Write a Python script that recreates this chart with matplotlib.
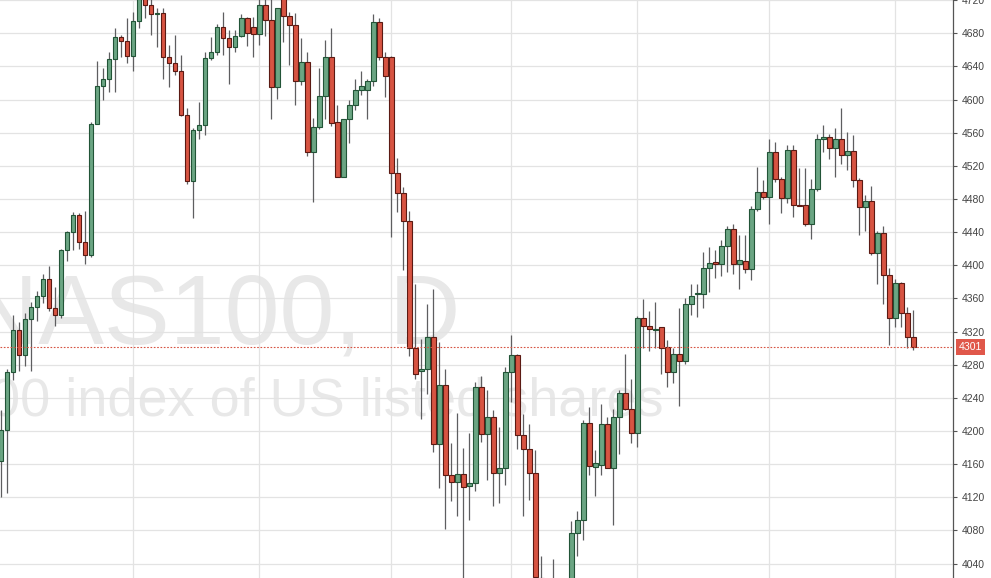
import numpy as np
import matplotlib
matplotlib.use("Agg")
import matplotlib.pyplot as plt
from matplotlib.transforms import blended_transform_factory

# daily candles, NAS100
opens = [4164, 4201, 4271, 4322, 4292, 4335, 4350, 4363, 4383, 4349,
         4340, 4418, 4440, 4461, 4428, 4412, 4571, 4617, 4625, 4649,
         4676, 4671, 4653, 4695, 4728, 4714, 4703, 4705, 4652, 4644,
         4634, 4582, 4502, 4563, 4569, 4650, 4658, 4688, 4674, 4663,
         4677, 4699, 4688, 4679, 4714, 4696, 4615, 4724, 4701, 4690,
         4622, 4645, 4537, 4567, 4604, 4652, 4573, 4507, 4576, 4593,
         4611, 4611, 4622, 4694, 4652, 4652, 4511, 4487, 4453, 4300,
         4272, 4275, 4314, 4184, 4255, 4147, 4138, 4148, 4134, 4137,
         4253, 4196, 4217, 4149, 4155, 4271, 4292, 4195, 4178, 4149,
         4023, 4005, 3998, 4010, 3995, 4012, 4077, 4092, 4210, 4157,
         4159, 4208, 4155, 4217, 4246, 4227, 4198, 4337, 4327, 4322,
         4325, 4301, 4271, 4293, 4284, 4353, 4365, 4365, 4397, 4404,
         4402, 4423, 4444, 4401, 4405, 4396, 4468, 4489, 4482, 4537,
         4504, 4481, 4539, 4473, 4473, 4450, 4492, 4552, 4555, 4541,
         4552, 4533, 4538, 4503, 4470, 4478, 4415, 4439, 4388, 4337,
         4379, 4343, 4313]
highs = [4225, 4275, 4340, 4331, 4342, 4356, 4369, 4390, 4399, 4374,
         4420, 4442, 4464, 4463, 4465, 4573, 4646, 4638, 4658, 4687,
         4678, 4698, 4706, 4730, 4732, 4722, 4711, 4711, 4666, 4678,
         4654, 4590, 4566, 4597, 4657, 4676, 4691, 4706, 4684, 4684,
         4703, 4700, 4700, 4722, 4722, 4725, 4711, 4730, 4706, 4704,
         4674, 4658, 4578, 4638, 4672, 4687, 4593, 4577, 4599, 4625,
         4634, 4625, 4703, 4699, 4658, 4653, 4529, 4495, 4465, 4377,
         4311, 4353, 4372, 4308, 4275, 4185, 4222, 4179, 4198, 4259,
         4267, 4250, 4225, 4205, 4277, 4316, 4293, 4221, 4209, 4177,
         4049, 4018, 4045, 4015, 4022, 4091, 4104, 4213, 4229, 4177,
         4233, 4217, 4227, 4249, 4293, 4263, 4339, 4359, 4345, 4356,
         4325, 4310, 4300, 4348, 4360, 4378, 4378, 4416, 4422, 4418,
         4430, 4448, 4450, 4436, 4436, 4472, 4519, 4503, 4553, 4549,
         4506, 4545, 4545, 4517, 4517, 4504, 4559, 4569, 4559, 4566,
         4590, 4561, 4557, 4505, 4485, 4496, 4441, 4448, 4397, 4384,
         4380, 4350, 4346]
lows = [4120, 4125, 4261, 4273, 4279, 4273, 4333, 4354, 4345, 4327,
        4337, 4405, 4419, 4420, 4402, 4410, 4570, 4600, 4609, 4609,
        4652, 4644, 4634, 4686, 4699, 4678, 4664, 4625, 4615, 4630,
        4580, 4498, 4457, 4552, 4557, 4648, 4654, 4654, 4619, 4658,
        4676, 4665, 4652, 4666, 4677, 4577, 4601, 4670, 4642, 4593,
        4618, 4532, 4477, 4565, 4577, 4568, 4506, 4506, 4548, 4588,
        4606, 4577, 4617, 4648, 4603, 4434, 4464, 4394, 4291, 4263,
        4215, 4245, 4175, 4131, 4082, 4115, 4098, 4010, 4092, 4127,
        4187, 4141, 4109, 4113, 4135, 4235, 4178, 4098, 4117, 4022,
        3995, 3985, 3990, 3985, 3990, 4005, 4049, 4069, 4147, 4121,
        4147, 4155, 4086, 4172, 4225, 4186, 4181, 4300, 4296, 4300,
        4269, 4253, 4258, 4230, 4281, 4340, 4338, 4349, 4368, 4385,
        4387, 4392, 4390, 4372, 4391, 4382, 4465, 4480, 4450, 4501,
        4463, 4475, 4458, 4471, 4448, 4432, 4490, 4537, 4528, 4506,
        4522, 4515, 4494, 4436, 4441, 4413, 4378, 4353, 4304, 4326,
        4326, 4300, 4298]
closes = [4201, 4271, 4322, 4292, 4335, 4350, 4363, 4383, 4349, 4340,
          4418, 4440, 4461, 4428, 4412, 4571, 4617, 4625, 4649, 4676,
          4671, 4653, 4695, 4722, 4714, 4703, 4704, 4652, 4644, 4634,
          4582, 4502, 4563, 4569, 4650, 4658, 4688, 4674, 4663, 4677,
          4699, 4680, 4679, 4714, 4696, 4615, 4711, 4701, 4690, 4622,
          4645, 4537, 4567, 4604, 4652, 4572, 4507, 4576, 4593, 4611,
          4617, 4622, 4694, 4652, 4629, 4511, 4487, 4453, 4300, 4269,
          4275, 4314, 4184, 4255, 4147, 4138, 4148, 4133, 4137, 4253,
          4196, 4217, 4149, 4155, 4271, 4292, 4195, 4178, 4149, 4024,
          4005, 3998, 4010, 3995, 4012, 4077, 4092, 4210, 4158, 4161,
          4208, 4155, 4217, 4246, 4227, 4198, 4337, 4327, 4323, 4323,
          4300, 4271, 4293, 4284, 4353, 4363, 4367, 4397, 4403, 4401,
          4423, 4444, 4401, 4407, 4396, 4468, 4489, 4482, 4537, 4504,
          4481, 4539, 4473, 4472, 4450, 4492, 4552, 4555, 4541, 4552,
          4533, 4538, 4503, 4470, 4478, 4415, 4439, 4388, 4337, 4379,
          4343, 4313, 4301]

# candle index where a new month starts (vertical grid lines)
month_starts = [22, 43, 65, 85, 106, 128, 149]
last_price = 4301
price_ticks = list(range(4040, 4721, 40))

up_color, down_color = '#6ba583', '#d75442'
up_edge, down_edge = '#225437', '#5b1a13'
wick_color = '#5e5e60'

o = np.array(opens)
h = np.array(highs)
l = np.array(lows)
c = np.array(closes)
x = np.arange(len(o))
up = c >= o

fig = plt.figure(figsize=(9.91, 5.78), dpi=100)
ax = fig.add_axes([0, 0, 953 / 991, 1])
ax.set_xlim(-0.22, 158.6)
ax.set_ylim(4022.6, 4720.2)
ax.patch.set_alpha(0)

# grid
for v in price_ticks:
    ax.axhline(v, color='#e3e3e3', lw=0.9, zorder=0)
for m in month_starts:
    ax.axvline(m, color='#e3e3e3', lw=0.9, zorder=0)

# watermark (behind the axes)
fig.text(460 / 991, 1 - 343 / 578, 'NAS100, D', ha='right', va='baseline',
         fontsize=71, color='#e8e8e8', family='Liberation Sans', zorder=-1)
fig.text(664 / 991, 1 - 416 / 578, 'NASDAQ 100 index of US listed shares',
         ha='right', va='baseline', fontsize=39, color='#e8e8e8',
         family='Liberation Sans', zorder=-1)

# candles
ax.vlines(x, l, h, color=wick_color, lw=0.9, zorder=2)
body_lo = np.minimum(o, c)
body_h = np.maximum(np.abs(c - o), 1.2)
ax.bar(x[up], body_h[up], 0.72, bottom=body_lo[up], color=up_color,
       edgecolor=up_edge, linewidth=0.8, zorder=3)
ax.bar(x[~up], body_h[~up], 0.72, bottom=body_lo[~up], color=down_color,
       edgecolor=down_edge, linewidth=0.8, zorder=3)

# last price line + label
ax.axhline(last_price, color='#d75442', lw=0.8, ls=(0, (1.5, 1.5)), zorder=4)
tr = blended_transform_factory(ax.transAxes, ax.transData)
ax.text(1.0185, last_price, str(last_price), transform=tr, ha='center',
        va='center', fontsize=7.6, color='white', family='Liberation Sans',
        clip_on=False, zorder=6,
        bbox=dict(boxstyle='square,pad=0.28', fc='#e0574a', ec='none'))

# right price axis
ax.yaxis.tick_right()
ax.set_yticks(price_ticks)
ax.tick_params(axis='y', length=3, width=0.8, color='#555555', pad=3,
               labelsize=7.5, labelcolor='#444444')
for t in ax.get_yticklabels():
    t.set_family('Liberation Sans')
ax.set_xticks([])
for s in ['top', 'bottom', 'left']:
    ax.spines[s].set_visible(False)
ax.spines['right'].set_color('#555555')
ax.spines['right'].set_linewidth(0.9)

fig.savefig('out.png', dpi=100)
